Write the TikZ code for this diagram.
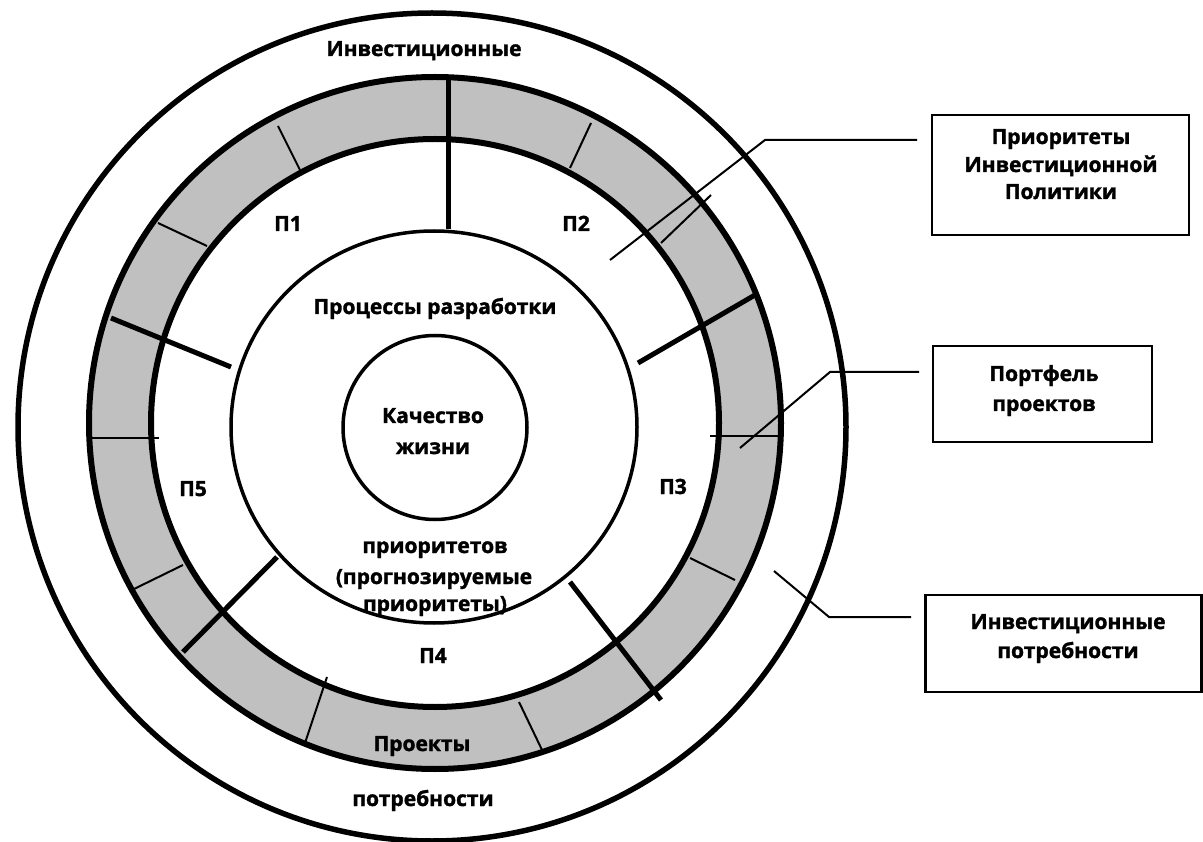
\documentclass[tikz,border=0pt]{standalone}
\usepackage{fontspec}
\setmainfont{Open Sans}[BoldFeatures={FakeBold=1.6}]
\definecolor{ringgray}{RGB}{192,192,192}
\begin{document}
\begin{tikzpicture}[x=1pt,y=-1pt,
  lbl/.style={font=\bfseries\fontsize{21}{26}\selectfont, inner sep=0pt, text height=12pt, text depth=0pt},
  boxframe/.style={draw, line width=2.4pt, inner sep=0pt},
  divider/.style={line width=5pt},
  tickline/.style={line width=2pt},
  leader/.style={line width=2pt},
]
\useasboundingbox (0,0) rectangle (1203,842);
% rings
\coordinate (C) at (435,423);
\fill[ringgray, even odd rule] (C) circle[radius=346pt] (C) circle[radius=284pt];
\draw[line width=5.5pt] (432,427) circle[radius=414pt];
\draw[line width=6pt] (C) circle[radius=346pt];
\draw[line width=6pt] (C) circle[radius=284pt];
\draw[line width=3.5pt] (434,427) ellipse[x radius=203pt, y radius=196pt];
\draw[line width=3.5pt] (435,427.5) circle[radius=92pt];
% thin ticks in the grey ring
\draw[tickline] (278,126) -- (300,170);
\draw[tickline] (158,223) -- (207,246);
\draw[tickline] (90,438) -- (159,438);
\draw[tickline] (134,589) -- (183,565);
\draw[tickline] (327,677) -- (305,743);
\draw[tickline] (519,702) -- (543,752);
\draw[tickline] (690,558) -- (735,580);
\draw[tickline] (710,436) -- (782,436);
\draw[tickline] (661,243) -- (711,195);
\draw[tickline] (591,123) -- (570,168);
% thick dividers
\draw[divider] (448,78) -- (448,229);
\draw[divider] (111,318) -- (231,367);
\draw[divider] (755,295) -- (638,363);
\draw[divider] (183,652) -- (277,557);
\draw[divider] (661,700) -- (570,582);
% labels
\node[lbl] (tInv) at (424,50) {Инвестиционные};
\node[lbl] (tP1) at (288,225) {П1};
\node[lbl] (tP2) at (576,225) {П2};
\node[lbl] (tProc) at (435,308) {Процессы разработки};
\node[lbl] (tKach) at (433,417) {Качество};
\node[lbl] (tZhiz) at (433,448) {жизни};
\node[lbl] (tP5) at (193,490) {П5};
\node[lbl] (tP3) at (673,488) {П3};
\node[lbl] (tPrio) at (435,547) {приоритетов};
\node[lbl] (tProg) at (434,578) {(прогнозируемые};
\node[lbl] (tPrio2) at (435,605) {приоритеты)};
\node[lbl] (tP4) at (433,657) {П4};
\node[lbl] (tProj) at (422,745) {Проекты};
\node[lbl] (tPotr) at (423,800) {потребности};
% boxes
\node[boxframe, minimum width=257pt, minimum height=120pt] (b1) at (1060.5,175) {};
\node[lbl] (b1a) at (1061,138) {Приоритеты};
\node[lbl] (b1b) at (1061,166) {Инвестиционной};
\node[lbl] (b1c) at (1061,193) {Политики};
\node[boxframe, minimum width=219pt, minimum height=96pt] (b2) at (1042.5,394) {};
\node[lbl] (b2a) at (1044,375) {Портфель};
\node[lbl] (b2b) at (1044,405) {проектов};
\node[boxframe, minimum width=276pt, minimum height=97pt] (b3) at (1063.5,643.5) {};
\node[lbl] (b3a) at (1068,623) {Инвестиционные};
\node[lbl] (b3b) at (1068,652) {потребности};
% leader lines
\coordinate (s1) at (610,260); \coordinate (k1) at (765,140); \coordinate (e1) at (917,140);
\coordinate (s2) at (740,448); \coordinate (k2) at (830,372); \coordinate (e2) at (919,372);
\coordinate (s3) at (774,571); \coordinate (k3) at (829,617); \coordinate (e3) at (911,617);
\draw[leader] (s1) -- (k1) -- (e1);
\draw[leader] (s2) -- (k2) -- (e2);
\draw[leader] (s3) -- (k3) -- (e3);
\end{tikzpicture}
\end{document}
